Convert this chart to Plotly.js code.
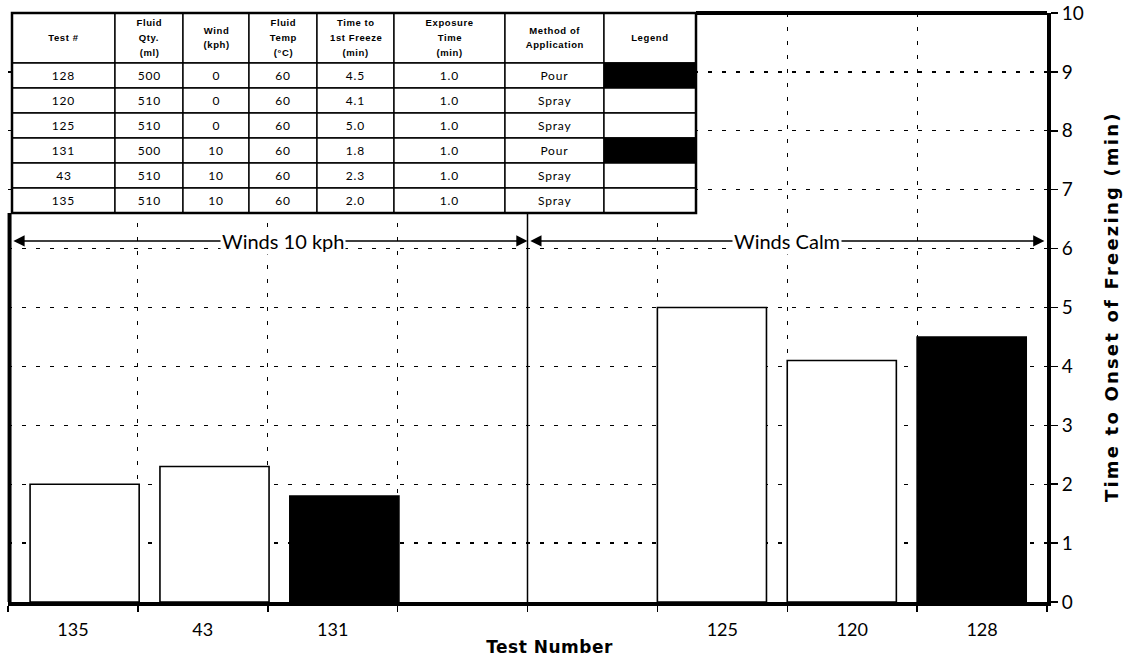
<!DOCTYPE html>
<html>
<head>
<meta charset="utf-8">
<script src="https://cdn.plot.ly/plotly-3.0.1.min.js"></script>
<style>html,body{margin:0;padding:0;background:#fff;}</style>
</head>
<body>
<div id="chart" style="width:1125px;height:660px;"></div>
<script>
// ---------- DATA ----------
const tableTests    = ['128', '120', '125', '131', '43', '135'];
const tableQty      = [500, 510, 510, 500, 510, 510];
const tableWind     = [0, 0, 0, 10, 10, 10];
const tableTemp     = [60, 60, 60, 60, 60, 60];
const tableFreeze   = [4.5, 4.1, 5.0, 1.8, 2.3, 2.0];
const tableExposure = [1.0, 1.0, 1.0, 1.0, 1.0, 1.0];
const tableMethod   = ['Pour', 'Spray', 'Spray', 'Pour', 'Spray', 'Spray'];

const headerLines = [
  ['Test #'],
  ['Fluid', 'Qty.', '(ml)'],
  ['Wind', '(kph)'],
  ['Fluid', 'Temp', '(°C)'],
  ['Time to', '1st Freeze', '(min)'],
  ['Exposure', 'Time', '(min)'],
  ['Method of', 'Application'],
  ['Legend']
];

const chartTests = ['135', '43', '131', '125', '120', '128'];
const chartSlots = [1, 2, 3, 6, 7, 8];
const slotCount  = 8;
const groupNames = ['Winds 10 kph', 'Winds Calm'];
const groupSlots = [[1, 4], [5, 8]];

const xTitle = 'Test Number';
const yTitle = 'Time to Onset of Freezing (min)';

// ---------- DERIVED ----------
const chartValues = chartTests.map(t => tableFreeze[tableTests.indexOf(t)]);
const chartMethod = chartTests.map(t => tableMethod[tableTests.indexOf(t)]);
const chartWind   = chartTests.map(t => tableWind[tableTests.indexOf(t)]);

// ---------- GEOMETRY (pixels) ----------
const W = 1125, H = 660;
const M = {l: 8, r: 78, t: 13, b: 58};
const PW = W - M.l - M.r, PH = H - M.t - M.b;
const px = x => (x - M.l) / PW;
const py = y => 1 - (y - M.t) / PH;

const colX = [12, 115, 183, 249, 317, 394, 505, 604, 696];
const rowY = [13, 63, 88, 113, 138, 163, 188, 213];
const headerLineY = {1: [38], 2: [30, 45], 3: [22, 37, 53]};

const shapes = [];
const annotations = [];

// frame
shapes.push({type: 'line', xref: 'paper', yref: 'paper', x0: 0.0015, x1: 0.0015, y0: 0, y1: py(rowY[rowY.length - 1]),
  line: {color: '#000', width: 4}, layer: 'above'});
shapes.push({type: 'line', xref: 'paper', yref: 'paper', x0: px(colX[colX.length - 1]), x1: 1, y0: 1, y1: 1,
  line: {color: '#000', width: 4}, layer: 'above'});
// divider between groups
const divX = (groupSlots[0][1] + groupSlots[1][0]) / 2;
shapes.push({type: 'line', xref: 'x', yref: 'paper', x0: divX, x1: divX, y0: 0, y1: py(rowY[rowY.length - 1]),
  line: {color: '#000', width: 1.5}, layer: 'above'});

// table cells
for (let r = 0; r < rowY.length - 1; r++) {
  for (let c = 0; c < colX.length - 1; c++) {
    let fill = '#fff';
    if (r > 0 && c === 7 && tableMethod[r - 1] === 'Pour') fill = '#000';
    shapes.push({type: 'rect', xref: 'paper', yref: 'paper',
      x0: px(colX[c]), x1: px(colX[c + 1]), y0: py(rowY[r + 1]), y1: py(rowY[r]),
      fillcolor: fill, line: {color: '#000', width: 1.4}, layer: 'above'});
  }
}
// table outer border
shapes.push({type: 'rect', xref: 'paper', yref: 'paper',
  x0: px(colX[0]), x1: px(colX[colX.length - 1]), y0: py(rowY[rowY.length - 1]), y1: py(rowY[0]),
  line: {color: '#000', width: 2.5}, layer: 'above'});

const cx = c => px((colX[c] + colX[c + 1]) / 2);
const headerIdx = [], bodyIdx = [];
// header text
headerLines.forEach((lines, c) => {
  const ys = headerLineY[lines.length];
  lines.forEach((ln, i) => {
    headerIdx.push(annotations.length);
    annotations.push({xref: 'paper', yref: 'paper', x: cx(c), y: py(ys[i]), text: ln, showarrow: false,
      xanchor: 'center', yanchor: 'middle',
      font: {family: 'Liberation Sans, Arial, sans-serif', size: 9.5, color: '#000', weight: 'bold'}});
  });
});
// body text
for (let r = 0; r < tableTests.length; r++) {
  const vals = [tableTests[r], String(tableQty[r]), String(tableWind[r]), String(tableTemp[r]),
    tableFreeze[r].toFixed(1), tableExposure[r].toFixed(1), tableMethod[r]];
  const yc = py((rowY[r + 1] + rowY[r + 2]) / 2);
  vals.forEach((v, c) => {
    bodyIdx.push(annotations.length);
    annotations.push({xref: 'paper', yref: 'paper', x: cx(c), y: yc, text: v, showarrow: false,
      xanchor: 'center', yanchor: 'middle',
      font: {family: 'Lato, sans-serif', size: 12, color: '#000'}});
  });
}

// group arrows + labels
const arrowY = 6.13;
const labelX = [2.62, 6.5];
groupSlots.forEach((g, i) => {
  const x0 = g[0] - 0.5 + (i === 0 ? 0.03 : 0.01);
  const x1 = g[1] + 0.5 - (i === 0 ? 0 : 0.02);
  annotations.push({xref: 'x', yref: 'y', axref: 'x', ayref: 'y', x: x1, y: arrowY, ax: x0, ay: arrowY,
    text: '', showarrow: true, arrowside: 'end+start', arrowhead: 2, startarrowhead: 2,
    arrowsize: 1.4, startarrowsize: 1.4, arrowwidth: 1.6, arrowcolor: '#000', standoff: 0, startstandoff: 0});
  annotations.push({xref: 'x', yref: 'y', x: labelX[i], y: arrowY, text: groupNames[i], showarrow: false,
    bgcolor: '#fff', borderpad: 1, xanchor: 'center', yanchor: 'middle',
    font: {family: 'Lato, sans-serif', size: 20, color: '#000'}});
});

// axis titles
annotations.push({xref: 'paper', yref: 'paper', x: px(550), y: py(647), text: xTitle, showarrow: false,
  xanchor: 'center', yanchor: 'middle',
  font: {family: 'DejaVu Sans, sans-serif', size: 17, color: '#000', weight: 'bold'}});
const xTitleIndex = annotations.length - 1;
annotations.push({xref: 'paper', yref: 'paper', x: px(1111), y: py(307), text: yTitle, showarrow: false,
  xanchor: 'center', yanchor: 'middle', textangle: -90,
  font: {family: 'DejaVu Sans, sans-serif', size: 18, color: '#000', weight: 'bold'}});
const yTitleIndex = annotations.length - 1;

// ---------- TRACES ----------
const boundaries = [];
for (let k = 0; k <= slotCount; k++) boundaries.push(k + 0.5);

const barTrace = {
  type: 'bar', x: chartSlots, y: chartValues, xaxis: 'x', yaxis: 'y',
  width: chartSlots.map(() => 0.84),
  offset: chartWind.map(w => (w > 0 ? -0.33 : -0.5)),
  marker: {color: chartMethod.map(m => (m === 'Pour' ? '#000' : '#fff')), line: {color: '#000', width: 1.6}},
  hoverinfo: 'skip'
};
const labelTrace = {type: 'scatter', mode: 'none', x: chartSlots, y: chartValues, xaxis: 'x2', yaxis: 'y', hoverinfo: 'skip'};

const gridStyle = {showgrid: true, gridcolor: '#000', gridwidth: 1.2, griddash: '4px,10px'};

const layout = {
  width: W, height: H, margin: M, paper_bgcolor: '#fff', plot_bgcolor: '#fff', showlegend: false,
  xaxis: Object.assign({range: [0.5, slotCount + 0.5], tickvals: boundaries, showticklabels: false,
    ticks: 'outside', ticklen: 6, tickwidth: 1.5, tickcolor: '#000', zeroline: false,
    showline: true, linewidth: 3.5, linecolor: '#000', fixedrange: true}, gridStyle),
  xaxis2: {overlaying: 'x', anchor: 'y', side: 'bottom', range: [0.5, slotCount + 0.5],
    tickvals: chartSlots, ticktext: chartTests, ticks: '', showgrid: false, zeroline: false, showline: false,
    ticklabelstandoff: 15, tickfont: {family: 'Lato, sans-serif', size: 18, color: '#000'}},
  yaxis: Object.assign({side: 'right', range: [0, 10], tick0: 0, dtick: 1, ticks: 'outside', ticklen: 7,
    tickwidth: 1.5, tickcolor: '#000', zeroline: false, showline: true, linewidth: 4, linecolor: '#000',
    tickfont: {family: 'Lato, sans-serif', size: 19, color: '#000'}, fixedrange: true}, gridStyle),
  shapes: shapes,
  annotations: annotations
};

function spacing(idx, val) {
  const t = document.querySelector('.annotation[data-index="' + idx + '"] text');
  if (t) t.style.letterSpacing = val;
}
Plotly.newPlot('chart', [barTrace, labelTrace], layout, {displayModeBar: false, staticPlot: true}).then(() => {
  spacing(yTitleIndex, '2.2px');
  spacing(xTitleIndex, '0.5px');
  headerIdx.forEach(i => spacing(i, '0.6px'));
  bodyIdx.forEach(i => spacing(i, '0.8px'));
});
</script>
</body>
</html>
